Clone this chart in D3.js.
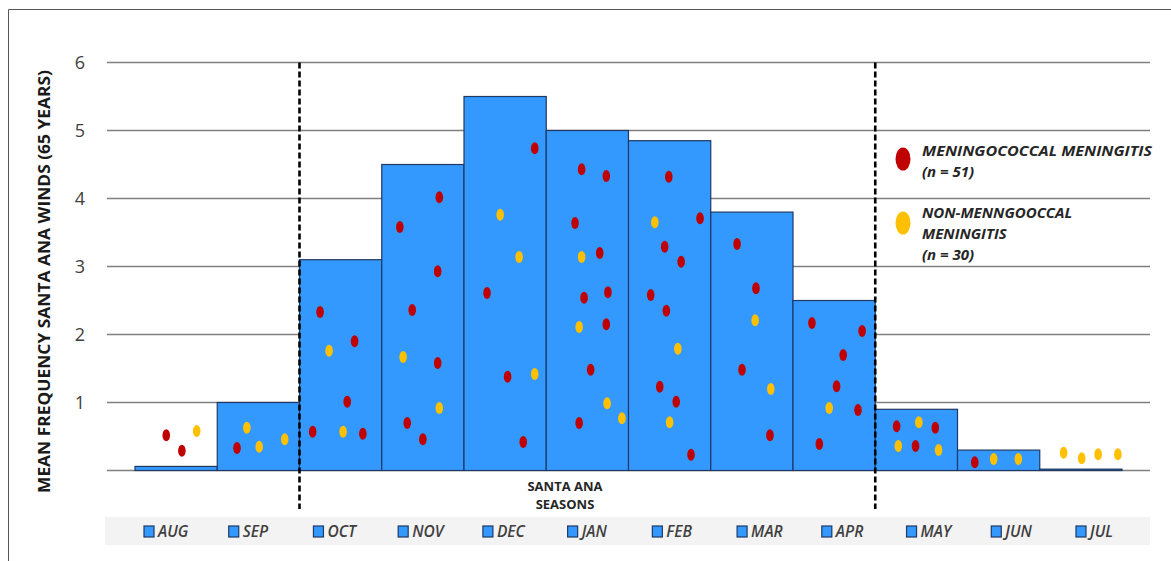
<!DOCTYPE html>
<html>
<head>
<meta charset="utf-8">
<script src="https://cdn.jsdelivr.net/npm/d3@7"></script>
<style>
  html, body { margin: 0; padding: 0; background: #fff; }
  svg { display: block; }
</style>
</head>
<body>
<svg id="chart" width="1171" height="561"></svg>
<script>
// ---------- DATA ----------
const months = ["AUG","SEP","OCT","NOV","DEC","JAN","FEB","MAR","APR","MAY","JUN","JUL"];
const meanFrequency = [0.06, 1.0, 3.1, 4.5, 5.5, 5.0, 4.85, 3.8, 2.5, 0.9, 0.3, 0.02];
const yTicks = [1, 2, 3, 4, 5, 6];
const seasonBounds = ["OCT", "MAY"]; // Santa Ana season starts at OCT and ends before MAY

// Individual cases: [month, position within month (0-1), value]
const meningococcal = [
  ["AUG",0.38,0.52],["AUG",0.57,0.29],
  ["SEP",0.24,0.33],
  ["OCT",0.25,2.33],["OCT",0.67,1.90],["OCT",0.58,1.01],["OCT",0.16,0.57],["OCT",0.77,0.54],
  ["NOV",0.70,4.02],["NOV",0.22,3.58],["NOV",0.68,2.93],["NOV",0.37,2.36],["NOV",0.68,1.58],["NOV",0.31,0.70],["NOV",0.50,0.46],
  ["DEC",0.86,4.74],["DEC",0.28,2.61],["DEC",0.53,1.38],["DEC",0.72,0.42],
  ["JAN",0.43,4.43],["JAN",0.73,4.33],["JAN",0.35,3.64],["JAN",0.65,3.20],["JAN",0.46,2.54],["JAN",0.75,2.62],["JAN",0.73,2.15],["JAN",0.54,1.48],["JAN",0.40,0.70],
  ["FEB",0.49,4.32],["FEB",0.87,3.71],["FEB",0.44,3.29],["FEB",0.64,3.07],["FEB",0.27,2.58],["FEB",0.46,2.35],["FEB",0.38,1.23],["FEB",0.58,1.01],["FEB",0.76,0.23],
  ["MAR",0.32,3.33],["MAR",0.55,2.68],["MAR",0.38,1.48],["MAR",0.72,0.52],
  ["APR",0.23,2.17],["APR",0.84,2.05],["APR",0.61,1.70],["APR",0.53,1.24],["APR",0.79,0.89],["APR",0.32,0.39],
  ["MAY",0.26,0.65],["MAY",0.73,0.63],["MAY",0.49,0.36],
  ["JUN",0.21,0.12]
];
const nonMeningococcal = [
  ["AUG",0.75,0.58],
  ["SEP",0.36,0.63],["SEP",0.51,0.35],["SEP",0.82,0.46],
  ["OCT",0.36,1.76],["OCT",0.53,0.57],
  ["NOV",0.26,1.67],["NOV",0.70,0.92],
  ["DEC",0.44,3.76],["DEC",0.67,3.14],["DEC",0.86,1.42],
  ["JAN",0.43,3.14],["JAN",0.40,2.11],["JAN",0.74,0.99],["JAN",0.92,0.77],
  ["FEB",0.32,3.65],["FEB",0.60,1.79],["FEB",0.50,0.71],
  ["MAR",0.54,2.21],["MAR",0.73,1.20],
  ["APR",0.44,0.92],
  ["MAY",0.53,0.71],["MAY",0.28,0.36],["MAY",0.77,0.30],
  ["JUN",0.44,0.17],["JUN",0.74,0.17],
  ["JUL",0.29,0.26],["JUL",0.51,0.18],["JUL",0.71,0.24],["JUL",0.95,0.24]
];
const legendItems = [
  {label: ["MENINGOCOCCAL MENINGITIS", "(n = 51)"], color: "#C00000"},
  {label: ["NON-MENNGOOCCAL", "MENINGITIS", "(n = 30)"], color: "#FFC000"}
];
const yTitle = "MEAN FREQUENCY SANTA ANA WINDS (65 YEARS)";
const seasonLabel = ["SANTA ANA", "SEASONS"];

// ---------- CHART ----------
const svg = d3.select("#chart");
const FONT = "'Open Sans', 'Liberation Sans', sans-serif";
const BAR = "#3399FF", BAR_STROKE = "#1F3864";

// frame
svg.append("path").attr("d", "M8.5,561 L8.5,9.5 L1171,9.5")
  .attr("fill", "none").attr("stroke", "#555").attr("stroke-width", 1);

const plotL = 107, plotR = 1150;
const x = d3.scaleBand().domain(months).range([135, 1122]).padding(0);
const y = d3.scaleLinear().domain([0, 6]).range([470.5, 62.5]);

// gridlines
svg.append("g").selectAll("line").data([0].concat(yTicks)).join("line")
  .attr("x1", plotL).attr("x2", plotR)
  .attr("y1", d => y(d)).attr("y2", d => y(d))
  .attr("stroke", "#7f7f7f").attr("stroke-width", 1.6);

// y axis labels
const yAxis = d3.axisLeft(y).tickValues(yTicks).tickSize(0).tickPadding(0).tickFormat(d3.format("d"));
const ga = svg.append("g").attr("transform", "translate(85,0)").call(yAxis);
ga.select(".domain").remove();
ga.selectAll("text").attr("font-family", FONT).attr("font-size", 18).attr("fill", "#404040");

// y title
svg.append("text")
  .attr("transform", `translate(50,${(70+493)/2}) rotate(-90)`)
  .attr("text-anchor", "middle")
  .attr("font-family", FONT).attr("font-weight", "bold").attr("font-size", 15.5)
  .attr("fill", "#1a1a1a")
  .attr("textLength", 423).attr("lengthAdjust", "spacingAndGlyphs")
  .text(yTitle);

// bars
svg.append("g").selectAll("rect").data(months).join("rect")
  .attr("x", d => x(d)).attr("width", x.bandwidth())
  .attr("y", (d, i) => y(meanFrequency[i]))
  .attr("height", (d, i) => y(0) - y(meanFrequency[i]))
  .attr("fill", BAR).attr("stroke", BAR_STROKE).attr("stroke-width", 1.2);

// dashed season bounds
svg.append("g").selectAll("line").data(seasonBounds).join("line")
  .attr("x1", d => x(d)).attr("x2", d => x(d))
  .attr("y1", y(6)).attr("y2", 509)
  .attr("stroke", "#000").attr("stroke-width", 2.6).attr("stroke-dasharray", "6,3");

// dots
function drawDots(data, color) {
  svg.append("g").selectAll("ellipse").data(data).join("ellipse")
    .attr("cx", d => x(d[0]) + d[1] * x.bandwidth())
    .attr("cy", d => y(d[2]))
    .attr("rx", 3.8).attr("ry", 6)
    .attr("fill", color);
}
drawDots(meningococcal, "#C00000");
drawDots(nonMeningococcal, "#FFC000");

// season label
const st = svg.append("text").attr("text-anchor", "middle")
  .attr("font-family", FONT).attr("font-weight", "bold").attr("font-size", 13).attr("fill", "#262626");
seasonLabel.forEach((t, i) => st.append("tspan").attr("x", 565).attr("y", 491 + i * 18).text(t));

// right legend
const lg = svg.append("g");
const legY = [159, 223];
legendItems.forEach((item, i) => {
  lg.append("ellipse").attr("cx", 903).attr("cy", legY[i]).attr("rx", 7.5).attr("ry", 11.5).attr("fill", item.color);
  const t = lg.append("text").attr("font-family", FONT).attr("font-weight", "bold").attr("font-style", "italic")
    .attr("font-size", 15).attr("fill", "#262626");
  item.label.forEach((line, j) => {
    const ts = t.append("tspan").attr("x", 922).attr("y", legY[i] - 3 + j * 21 - (i === 1 ? 2 : 0)).text(line);
    if (i === 0 && j === 0) ts.attr("textLength", 230).attr("lengthAdjust", "spacingAndGlyphs");
  });
});

// bottom legend strip
svg.append("rect").attr("x", 105).attr("y", 517).attr("width", 1045).attr("height", 28).attr("fill", "#f3f3f3");
const lx = d3.scalePoint().domain(months).range([144, 1076]);
const bl = svg.append("g").selectAll("g").data(months).join("g")
  .attr("transform", d => `translate(${lx(d)},526)`);
bl.append("rect").attr("width", 10).attr("height", 11).attr("fill", BAR).attr("stroke", BAR_STROKE).attr("stroke-width", 1.2);
bl.append("text").attr("x", 14).attr("y", 11)
  .attr("font-family", FONT).attr("font-style", "italic").attr("font-weight", 600).attr("font-size", 15.5).attr("fill", "#404040")
  .text(d => d);
</script>
</body>
</html>
